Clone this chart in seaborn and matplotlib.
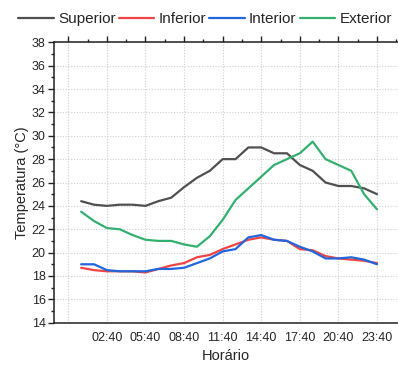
import numpy as np
import pandas as pd
import matplotlib
matplotlib.use("Agg")
import matplotlib.pyplot as plt
import seaborn as sns
from matplotlib.ticker import MultipleLocator, FixedLocator

# ---- data (hours 00:40 .. 23:40) ----
hours = [0.667 + i for i in range(24)]
superior = [24.4, 24.1, 24.0, 24.1, 24.1, 24.0, 24.4, 24.7, 25.6, 26.4, 27.0, 28.0,
            28.0, 29.0, 29.0, 28.5, 28.5, 27.5, 27.0, 26.0, 25.7, 25.7, 25.5, 25.0]
inferior = [18.7, 18.5, 18.4, 18.4, 18.4, 18.3, 18.6, 18.9, 19.1, 19.6, 19.8, 20.3,
            20.7, 21.1, 21.3, 21.1, 21.0, 20.3, 20.2, 19.7, 19.5, 19.4, 19.3, 19.1]
interior = [19.0, 19.0, 18.5, 18.4, 18.4, 18.4, 18.6, 18.6, 18.7, 19.1, 19.5, 20.1,
            20.3, 21.3, 21.5, 21.1, 21.0, 20.5, 20.1, 19.5, 19.5, 19.6, 19.4, 19.0]
exterior = [23.5, 22.7, 22.1, 22.0, 21.5, 21.1, 21.0, 21.0, 20.7, 20.5, 21.4, 22.8,
            24.5, 25.5, 26.5, 27.5, 28.0, 28.5, 29.5, 28.0, 27.5, 27.0, 25.0, 23.7]
series_names = ["Superior", "Inferior", "Interior", "Exterior"]
tick_labels = ["", "02:40", "05:40", "08:40", "11:40", "14:40", "17:40", "20:40", "23:40"]

colors = ["#505050", "#EE4444", "#2266DD", "#33B070"]

df = pd.DataFrame({"Horário": hours, "Superior": superior, "Inferior": inferior,
                   "Interior": interior, "Exterior": exterior})
long = df.melt(id_vars="Horário", var_name="Série", value_name="Temperatura")

sns.set_style("white")
plt.rcParams["font.family"] = ["Liberation Sans", "DejaVu Sans"]

fig = plt.figure(figsize=(3.98, 3.65), dpi=100)
ax = fig.add_axes([54 / 398, (365 - 322.7) / 365, (398 - 54) / 398, (322.7 - 42.3) / 365])

sns.lineplot(data=long, x="Horário", y="Temperatura", hue="Série",
             hue_order=series_names, palette=colors, linewidth=1.6, ax=ax,
             legend=True)

ax.set_xlim(-1.444, 25.3)
ax.set_ylim(14, 38)
major_x = [-0.333 + 3 * k for k in range(9)]
ax.xaxis.set_major_locator(FixedLocator(major_x))
ax.set_xticklabels(tick_labels)
ax.xaxis.set_minor_locator(FixedLocator([-0.333 + 1.5 + 3 * k for k in range(9)]))
ax.yaxis.set_major_locator(MultipleLocator(2))
ax.yaxis.set_minor_locator(MultipleLocator(1))

ax.grid(True, which="major", linestyle=(0, (1, 1.5)), color="#d0d0d0", linewidth=0.8)
ax.set_axisbelow(True)

for s in ["left", "bottom", "top"]:
    ax.spines[s].set_visible(True)
    ax.spines[s].set_color("#222222")
    ax.spines[s].set_linewidth(1.1)
ax.spines["right"].set_visible(False)

ax.tick_params(axis="both", which="major", direction="out", length=4.5, width=1,
               color="#222222", labelsize=9, pad=2)
ax.tick_params(axis="both", which="minor", direction="out", length=2.5, width=1,
               color="#222222")
ax.tick_params(axis="x", which="both", top=True, labeltop=False)
ax.tick_params(axis="y", which="both", left=True, right=False)
ax.tick_params(axis="y", which="major", pad=1.5)

ax.set_xlabel("Horário", fontsize=10.5, labelpad=4)
ax.set_ylabel("Temperatura (°C)", fontsize=10.5, labelpad=2)

handles, labels = ax.get_legend_handles_labels()
ax.legend(handles, labels, loc="center",
          bbox_to_anchor=((205 - 54) / 344, 1.0 + (42.3 - 19.3) / 280.4),
          ncol=4, frameon=False, fontsize=11, handlelength=2.33, handletextpad=0.28,
          columnspacing=0.2, borderaxespad=0, borderpad=0)
for line in ax.get_legend().get_lines():
    line.set_linewidth(1.6)

fig.savefig("out.png", dpi=100)
